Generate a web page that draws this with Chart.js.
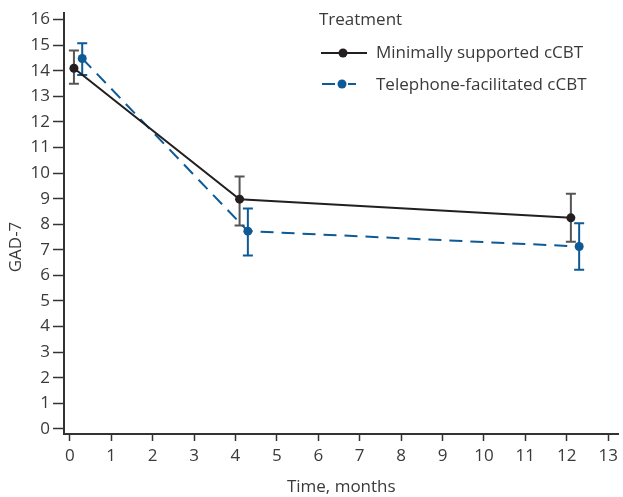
<!DOCTYPE html>
<html>
<head>
<meta charset="utf-8">
<script src="https://cdn.jsdelivr.net/npm/chart.js"></script>
<style>
  body { margin:0; padding:0; background:#ffffff }
  #wrap { width:623px; height:497px }
</style>
</head>
<body>
<div id="wrap"><canvas id="chartCanvas" width="623" height="497"></canvas></div>
<script>
// Data (time offset per group so bars don't overlap)
const groups = ['Minimally supported cCBT', 'Telephone-facilitated cCBT'];
const minimalTime = [0.1, 4.1, 12.1];
const minimalMean = [14.1, 8.98, 8.25];
const minimalLow  = [13.49, 7.95, 7.32];
const minimalHigh = [14.79, 9.87, 9.19];
const phoneTime = [0.3, 4.3, 12.3];
const phoneMean = [14.48, 7.73, 7.13];
const phoneLow  = [13.83, 6.78, 6.22];
const phoneHigh = [15.08, 8.62, 8.04];
const xTicks = [0, 1, 2, 3, 4, 5, 6, 7, 8, 9, 10, 11, 12, 13];
const yTicks = [0, 1, 2, 3, 4, 5, 6, 7, 8, 9, 10, 11, 12, 13, 14, 15, 16];

const FONT = '"Open Sans", "Liberation Sans", sans-serif';
const TXT = '#3a3a3a';
const BLACK = '#231f20';
const BLUE = '#0d5a96';

const toPts = (xs, ys) => xs.map((x, i) => ({ x: x, y: ys[i] }));

// error bars + custom legend + rotated y title
const extras = {
  id: 'extras',
  beforeDatasetsDraw(chart) {
    const { ctx, scales: { x, y } } = chart;
    const bars = [
      { t: minimalTime, lo: minimalLow, hi: minimalHigh, c: '#555555' },
      { t: phoneTime, lo: phoneLow, hi: phoneHigh, c: BLUE }
    ];
    ctx.save();
    ctx.lineWidth = 2;
    bars.forEach(b => {
      ctx.strokeStyle = b.c;
      b.t.forEach((tv, i) => {
        const px = x.getPixelForValue(tv);
        const y1 = y.getPixelForValue(b.lo[i]);
        const y2 = y.getPixelForValue(b.hi[i]);
        ctx.beginPath();
        ctx.moveTo(px, y1); ctx.lineTo(px, y2);
        ctx.moveTo(px - 5, y1); ctx.lineTo(px + 5, y1);
        ctx.moveTo(px - 5, y2); ctx.lineTo(px + 5, y2);
        ctx.stroke();
      });
    });
    ctx.restore();
  },
  afterDraw(chart) {
    const ctx = chart.ctx;
    ctx.save();
    ctx.fillStyle = TXT;
    ctx.font = '17px ' + FONT;
    ctx.textBaseline = 'middle';
    ctx.textAlign = 'left';
    ctx.fillText('Treatment', 319, 20);
    ctx.fillText(groups[0], 376, 53);
    ctx.fillText(groups[1], 376, 85);

    // legend sample 1
    ctx.strokeStyle = BLACK; ctx.lineWidth = 2;
    ctx.beginPath(); ctx.moveTo(321, 53); ctx.lineTo(367, 53); ctx.stroke();
    ctx.fillStyle = BLACK;
    ctx.beginPath(); ctx.arc(343, 53, 4.5, 0, Math.PI * 2); ctx.fill();
    // legend sample 2
    ctx.strokeStyle = BLUE;
    ctx.beginPath(); ctx.moveTo(322, 84); ctx.lineTo(335, 84);
    ctx.moveTo(348, 84); ctx.lineTo(356, 84); ctx.stroke();
    ctx.fillStyle = BLUE;
    ctx.beginPath(); ctx.arc(342, 84, 4.5, 0, Math.PI * 2); ctx.fill();

    // y axis title
    ctx.fillStyle = TXT;
    ctx.translate(16, 247);
    ctx.rotate(-Math.PI / 2);
    ctx.textAlign = 'center';
    ctx.fillText('GAD-7', 0, 0);
    ctx.restore();
  }
};

new Chart(document.getElementById('chartCanvas'), {
  type: 'line',
  data: {
    datasets: [
      {
        label: groups[0],
        data: toPts(minimalTime, minimalMean),
        borderColor: BLACK, backgroundColor: BLACK,
        borderWidth: 2, pointRadius: 4.5, pointBorderWidth: 0,
        tension: 0
      },
      {
        label: groups[1],
        data: toPts(phoneTime, phoneMean),
        borderColor: BLUE, backgroundColor: BLUE,
        borderWidth: 2, borderDash: [13, 8], pointRadius: 4.5, pointBorderWidth: 0,
        tension: 0
      }
    ]
  },
  options: {
    responsive: false,
    animation: false,
    layout: { padding: { top: 13, right: 3, left: 0, bottom: 0 } },
    plugins: { legend: { display: false }, tooltip: { enabled: false } },
    scales: {
      x: {
        type: 'linear', min: -0.14, max: 13.25,
        afterBuildTicks: s => { s.ticks = xTicks.map(v => ({ value: v })); },
        afterFit: s => { s.height = 63; },
        ticks: { color: TXT, font: { family: FONT, size: 17 }, padding: 5, maxRotation: 0, autoSkip: false },
        grid: { drawOnChartArea: false, tickLength: 7, tickColor: '#333', tickWidth: 1.5 },
        border: { color: '#333', width: 2 },
        title: { display: true, text: 'Time, months', color: TXT, font: { family: FONT, size: 17 }, padding: { top: 3, bottom: 0 } }
      },
      y: {
        type: 'linear', min: -0.2, max: 16.25,
        afterBuildTicks: s => { s.ticks = yTicks.map(v => ({ value: v })); },
        afterFit: s => { s.width = 64; },
        ticks: { color: TXT, font: { family: FONT, size: 17 }, padding: 3, autoSkip: false },
        grid: { drawOnChartArea: false, tickLength: 11, tickColor: '#333', tickWidth: 1.5 },
        border: { color: '#333', width: 2 }
      }
    }
  },
  plugins: [extras]
});
</script>
</body>
</html>
